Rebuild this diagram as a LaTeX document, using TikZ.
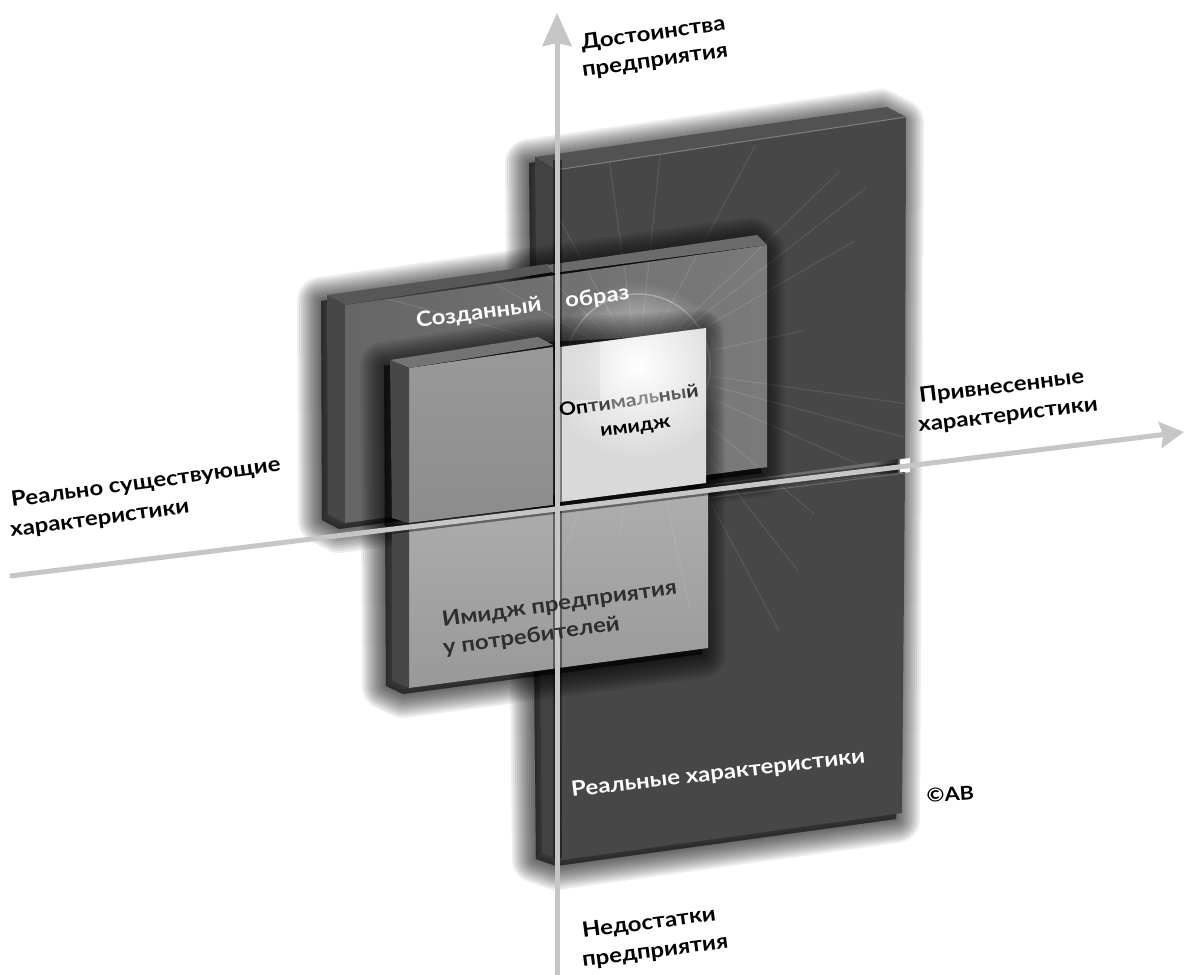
\documentclass[tikz,border=0pt]{standalone}
\usepackage{fontspec}
\setmainfont{Lato}[FakeStretch=1.14]
\usetikzlibrary{arrows.meta,fadings}
\definecolor{axisgray}{HTML}{C6C6C6}
\tikzfading[name=glowfade, inner color=transparent!0, outer color=transparent!100]
\newcommand\softshadow[3]{%
  \foreach \w in {4,8,...,48}{%
    \path[draw=black,fill=black,opacity=.065,line width=\w pt,line join=round,shift={(#1,#2)}] #3;%
  }}
\newcommand\glowrays[1]{%
  \foreach \a/\l in {-44/280,-38/290,-30/250,-62/250,-84/230,-98/220,-118/230,-135/220,-150/170,-165/260,
                     -12/170,8/270,15/280,24/240,40/230,52/260,62/300,78/250,96/170,112/200,135/160,150/180,170/220}{%
    \draw[white,opacity=#1,line width=1.2pt] (glowc) -- ++(\a:\l);
  }}
\tikzset{
  lbl/.style={font=\bfseries\fontsize{21}{21}\selectfont,anchor=base west,inner sep=0pt,text=black},
  lblw/.style={lbl,text=white},
  lbld/.style={lbl,text=black!82},
  axisline/.style={draw=axisgray,line width=5pt},
  axisdark/.style={draw=black,opacity=.42,line width=9pt},
}
\begin{document}
\begin{tikzpicture}[x=1pt,y=-1pt]
\useasboundingbox (0,0) rectangle (1184,975);
\fill[white] (0,0) rectangle (1184,975);
\coordinate (glowc) at (638,366);
\coordinate (vtop) at (557,13);
\coordinate (vbot) at (557,975);
\coordinate (hleft) at (10,576);
\coordinate (hright) at (1184,432);
\coordinate (vd1) at (557,160);
\coordinate (vd2) at (557,858);
\coordinate (hd1) at (392,529.5);
\coordinate (hd2) at (897,467.5);

% ---- large box
\softshadow{-6}{6}{(535,157)--(887,107)--(906,117)--(902,813)--(562,860)--(542,853)--cycle}
\fill[white] (900,459.5) -- (910,458) -- (910,472) -- (900,473.5) -- cycle;
\fill[black!72] (556,170)--(906,117)--(905,458)--(556,505)--cycle;
\fill[black!72] (556,512)--(905,472)--(902,813)--(562,860)--cycle;
\fill[black!68] (535,157)--(887,107)--(906,117)--(556,170)--cycle;
\fill[black!74] (535,157)--(556,170)--(562,860)--(542,853)--cycle;
\draw[black!50,line width=1pt] (556,170)--(906,117);
\draw[black!58,line width=1pt] (700,499)--(905,473);
\begin{scope}
  \clip (556,170)--(906,117)--(902,813)--(562,860)--cycle;
  \glowrays{.09}
\end{scope}

% ---- middle box
\softshadow{-6}{6}{(327,295)--(757,235)--(767,245)--(767,467)--(345,523)--(328,514)--cycle}
\shade[left color=black!60,right color=black!52] (345,305)--(767,245)--(767,467)--(345,523)--cycle;
\fill[black!66] (327,295)--(548,264)--(553,272)--(345,305)--cycle;
\fill[black!58] (547,265)--(757,235)--(767,245)--(553,273)--cycle;
\fill[black!72] (327,295)--(345,305)--(345,523)--(328,514)--cycle;
\begin{scope}
  \clip (345,305)--(767,245)--(767,467)--(345,523)--cycle;
  \glowrays{.10}
  \fill[white,path fading=glowfade,fill opacity=.85] (glowc) circle[radius=85];
  \draw[white,opacity=.3,line width=1.4pt] (glowc) circle[radius=72];
\end{scope}
\fill[black!52] (737,470) -- (767,467) -- (767,466) -- (737,470) -- cycle;

% ---- small box
\softshadow{-6}{6}{(390,360)--(538,337)--(706,328)--(708,648)--(409,688)--(392,680)--cycle}
\shade[top color=black!40,bottom color=black!45] (409,368)--(553,347)--(553,505)--(409,523)--cycle;
\shade[top color=black!32,bottom color=black!40] (409,528)--(708,491)--(708,648)--(409,688)--cycle;
\fill[black!55] (390,360)--(538,337)--(553,345)--(409,368)--cycle;
\fill[black!72] (390,360)--(409,368)--(409,523)--(392,518)--cycle;
\fill[black!72] (392,527)--(409,527)--(409,688)--(392,680)--cycle;
\begin{scope}
  \clip (409,528)--(708,491)--(708,648)--(409,688)--cycle;
  \glowrays{.07}
\end{scope}
% light square with the glow
\begin{scope}
  \clip (560,347)--(706,328)--(706,483)--(560,502)--cycle;
  \fill[black!15] (550,320) rectangle (715,510);
  \fill[black!24,path fading=west] (550,320) rectangle (600,400);
  \fill[white,path fading=glowfade] (glowc) circle[radius=95];
\end{scope}

% ---- axes
\draw[axisdark] (vd1) -- (vd2);
\draw[axisdark] (hd1) -- (hd2);
\draw[axisline,-{Stealth[length=33pt,width=29pt,inset=3pt]}] (vbot) -- (vtop);
\draw[axisline,-{Stealth[length=24pt,width=26pt,inset=3pt]}] (hleft) -- (hright);

% ---- labels
\node[lbl,rotate=8] (dost) at (582,50) {Достоинства};
\node[lbl,rotate=8] (pred1) at (583,77) {предприятия};
\node[lbl,rotate=7.7] (realn) at (12,507) {Реально существующие};
\node[lbl,rotate=7.7] (har1) at (11,537) {характеристики};
\node[lbl,rotate=6.8] (priv) at (920,403) {Привнесенные};
\node[lbl,rotate=6.8] (har2) at (919,432) {характеристики};
\node[lblw,rotate=7.7] (sozd) at (417,328) {Созданный};
\node[lblw,rotate=7.7] (obr) at (566,308) {образ};
\node[lbl,rotate=8.5,font=\bfseries\fontsize{18.5}{18.5}\selectfont] (opt) at (560,417) {\textcolor{black}{Оп}\textcolor{black!75}{ти}\textcolor{black!55}{ма}\textcolor{black!45}{ль}\textcolor{black!65}{ны}\textcolor{black!80}{й}};
\node[lbl,rotate=8,font=\bfseries\fontsize{18.5}{18.5}\selectfont] (imi) at (601,437) {имидж};
\node[lbld,rotate=8] (imi2) at (443,627) {Имидж предприятия};
\node[lbld,rotate=8] (potr) at (444,655) {у потребителей};
\node[lblw,rotate=6.7] (real2) at (572,797) {Реальные характеристики};
\node[lbl,rotate=4,font=\bfseries\fontsize{19}{19}\selectfont] (ab) at (927,803) {©AB};
\node[lbl,rotate=7.5] (ned) at (583,938) {Недостатки};
\node[lbl,rotate=7.5] (pred2) at (583,967) {предприятия};
\end{tikzpicture}
\end{document}
